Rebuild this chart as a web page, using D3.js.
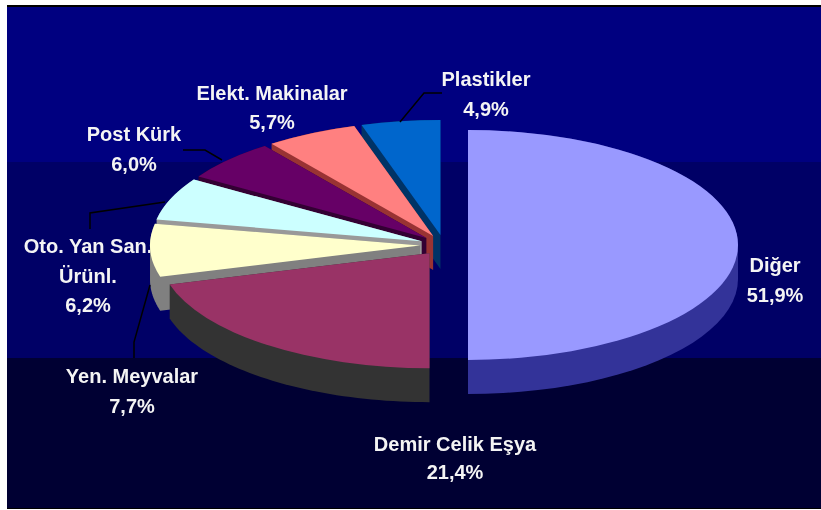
<!DOCTYPE html>
<html>
<head>
<meta charset="utf-8">
<script src="https://cdn.jsdelivr.net/npm/d3@7/dist/d3.min.js"></script>
<style>
html,body{margin:0;padding:0;background:#fff;overflow:hidden}
svg{display:block}
text{font-family:"Liberation Sans",Arial,sans-serif;font-weight:700;font-size:20px;fill:#f4f4f4;filter:blur(0.4px)}
</style>
</head>
<body>
<svg id="c" width="821" height="510"></svg>
<script>
// data (percent labels as printed)
const categories = ["Diğer","Demir Celik Eşya","Yen. Meyvalar","Oto. Yan San. Ürünl.","Post Kürk","Elekt. Makinalar","Plastikler"];
const values = [51.9,21.4,7.7,6.2,6.0,5.7,4.9];
const valueLabels = ["51,9%","21,4%","7,7%","6,2%","6,0%","5,7%","4,9%"];
const topColors = ["#9999ff","#993366","#ffffcc","#ccffff","#660066","#ff8080","#0066cc"];
const sideColors = ["#333399","#333333","#808080","#999999","#330033","#993333","#003366"];

// layout
const cx=444, cy=245, rx=270, ry=115, depth=34, explode=24;
const svg=d3.select("#c");
const bandTops=[7,162,358], bandColors=["#000080","#000066","#000033"];
svg.append("rect").attr("x",7).attr("y",5).attr("width",814).attr("height",504).attr("fill","#000");
bandTops.forEach((t,i)=>{
  const b=i<2?bandTops[i+1]:508;
  svg.append("rect").attr("x",7).attr("y",t).attr("width",814).attr("height",b-t).attr("fill",bandColors[i]);
});

// labels
const labelLines=[
  [categories[0],valueLabels[0]],
  [categories[1],valueLabels[1]],
  [categories[2],valueLabels[2]],
  ["Oto. Yan San.","Ürünl.",valueLabels[3]],
  [categories[4],valueLabels[4]],
  [categories[5],valueLabels[5]],
  [categories[6],valueLabels[6]]
];
const labelPos=[[775,272],[455,451],[132,383],[88,253],[134,141],[272,100],[486,86]];
const lineH=[30,28,30,29.5,30,29,30];
const drawLabel=i=>{
  const t=svg.append("text").attr("text-anchor","middle");
  labelLines[i].forEach((s,j)=>t.append("tspan").attr("x",labelPos[i][0]).attr("y",labelPos[i][1]+j*lineH[i]).text(s));
};
// the Oto. Yan San. label sits under the pie, which clips its end
drawLabel(3);

const arcs=d3.pie().sort(null).value(d=>d)(values);
const rScale=d3.scaleLinear().domain([0,1]).range([0,rx]);
const yK=ry/rx;
const arcGen=d3.arc().innerRadius(0).outerRadius(rScale(1));

const pie=svg.append("g");
arcs.map((a,i)=>({a,i})).reverse().forEach(({a,i})=>{
  const mid=(a.startAngle+a.endAngle)/2;
  const off=d3.pointRadial(mid,explode);
  const ox=cx+off[0], oy=cy+off[1]*yK;
  // wall: convex hull of the slice and the slice moved down
  const pts=[[0,0]];
  const n=48;
  d3.range(n+1).forEach(k=>{
    const p=d3.pointRadial(a.startAngle+(a.endAngle-a.startAngle)*k/n,rScale(1));
    pts.push([p[0],p[1]*yK]);
  });
  const all=pts.concat(pts.map(p=>[p[0],p[1]+depth]));
  const hull=d3.polygonHull(all);
  const g=pie.append("g").attr("transform",`translate(${ox},${oy})`);
  g.append("path").attr("d",d3.line()(hull)+"Z").attr("fill",sideColors[i]);
  g.append("path").attr("d",arcGen(a)).attr("transform",`scale(1,${yK})`).attr("fill",topColors[i]);
});

// leader lines
const leaders=[
  [[400,122],[424,93],[442,93]],
  [[222,160],[205,150],[183,150]],
  [[165,202],[90,213],[90,229]],
  [[150,285],[134,342],[134,358]]
];
leaders.forEach(l=>svg.append("path").attr("d",d3.line()(l)).attr("fill","none").attr("stroke","#000").attr("stroke-width",1.5));

[0,1,2,4,5,6].forEach(drawLabel);
</script>
</body>
</html>
